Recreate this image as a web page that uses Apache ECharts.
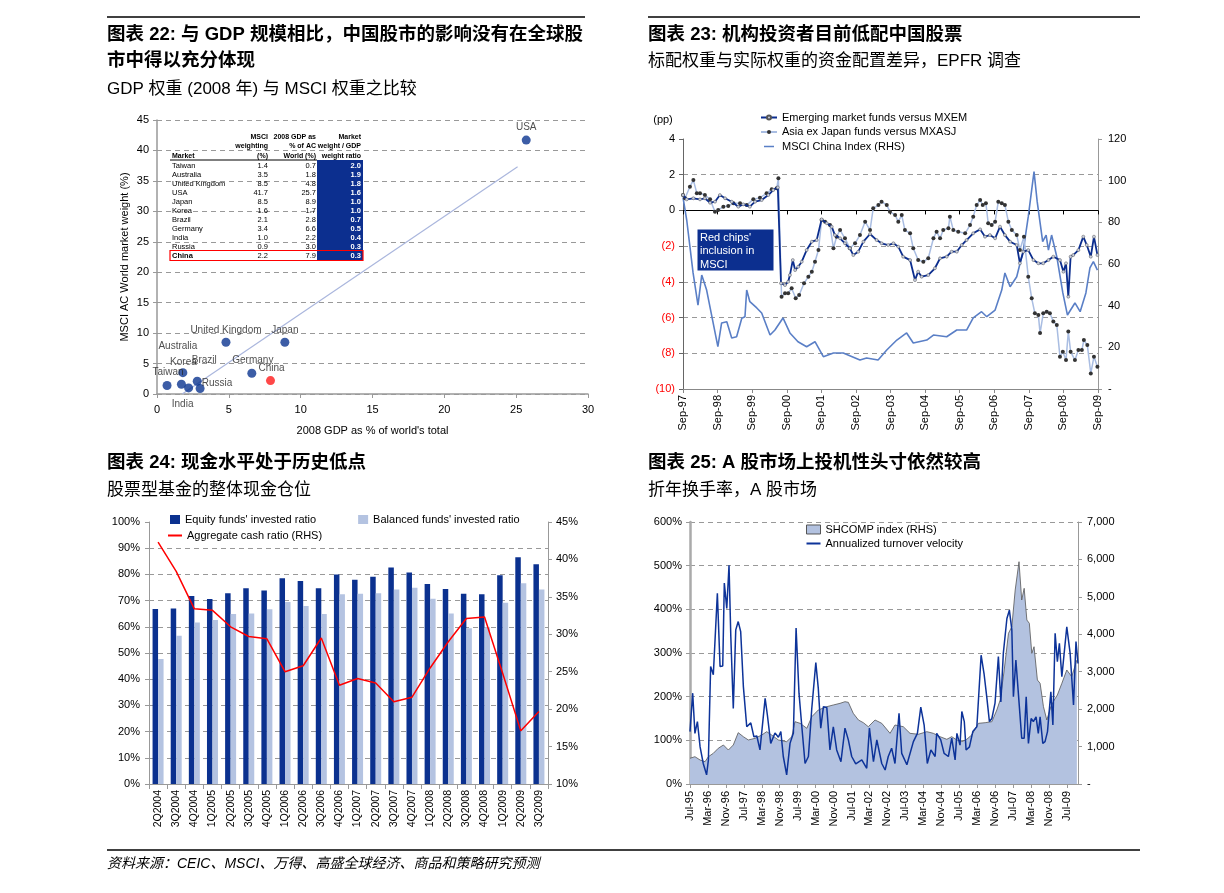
<!DOCTYPE html>
<html><head><meta charset="utf-8">
<script src="https://cdn.jsdelivr.net/npm/echarts@6.0.0/dist/echarts.min.js"></script>
<style>html,body{margin:0;padding:0;background:#fff}#c{width:1224px;height:893px}</style>
</head><body><div id="c"></div>
<script>
// ---------- Chart 22 data ----------
const gdpMarkets = ['Taiwan','Australia','United Kingdom','USA','Japan','Korea','Brazil','Germany','India','Russia','China'];
const msciWeight = [1.4,3.5,8.5,41.7,8.5,1.6,2.1,3.4,1.0,0.9,2.2];
const gdpShare = [0.7,1.8,4.8,25.7,8.9,1.7,2.8,6.6,2.2,3.0,7.9];
const weightRatio = [2.0,1.9,1.8,1.6,1.0,1.0,0.7,0.5,0.4,0.3,0.3];

// ---------- Chart 23 data (month index from Sep-97, value) ----------
const epfrTicks = ['Sep-97','Sep-98','Sep-99','Sep-00','Sep-01','Sep-02','Sep-03','Sep-04','Sep-05','Sep-06','Sep-07','Sep-08','Sep-09'];
const emFunds = [[0,0.86],[1.3,0.62],[3.6,0.68],[5.9,0.62],[7.6,0.68],[9.4,0.43],[11.1,0.49],[12.8,0.86],[14.6,0.68],[16.9,0.49],[19.2,0.21],[20.9,0.34],[23.2,0.21],[25,0.49],[27.3,0.58],[29.6,0.86],[31.3,1.14],[32.9,1.29],[34,-4.08],[35.4,-4.18],[36.5,-3.99],[37.1,-3.62],[38.1,-2.78],[38.9,-3.34],[40,-3.15],[41.2,-2.87],[42.9,-2.22],[44.7,-1.75],[46.4,-1.66],[48.1,-0.5],[49.9,-0.72],[51.6,-0.91],[52.7,-1.38],[54.5,-1.56],[56.2,-1.84],[57.9,-2.12],[59.1,-2.5],[60.8,-2.31],[62.6,-1.75],[64.9,-1.32],[67.2,-1.66],[68.9,-1.84],[71.2,-1.94],[73,-1.84],[74.7,-2.03],[76.4,-2.59],[78.8,-2.78],[80.5,-3.9],[81.6,-3.43],[82.8,-3.71],[85.1,-3.62],[87.4,-3.24],[89.2,-2.68],[91.5,-2.59],[93.2,-2.31],[95,-2.31],[96.7,-1.94],[98.4,-1.66],[100.7,-1.28],[103.1,-1.06],[104.8,-1.47],[106.5,-1.38],[108.3,-1.56],[110,-0.91],[111.7,-1.38],[113.5,-1.75],[115.8,-1.94],[116.9,-2.96],[118.1,-2.31],[119.8,-2.22],[121.6,-2.78],[123.3,-2.96],[125,-2.96],[126.8,-2.78],[128.5,-2.59],[130.8,-2.78],[132,-3.43],[132.9,-2.96],[133.7,-4.83],[134.5,-2.59],[135.4,-2.5],[137.2,-2.22],[138.9,-1.47],[140.1,-1.94],[141.5,-2.59],[142.6,-1.47],[143.8,-2.5]];
const asiaFunds = [[0,0.86],[0.7,0.68],[2.4,1.33],[3.6,1.7],[4.8,0.96],[5.9,0.96],[7.6,0.86],[9.4,0.62],[11.1,-0.07],[12.2,0.02],[14,0.21],[15.7,0.25],[17.5,0.4],[19.8,0.4],[22.1,0.3],[24.4,0.62],[26.7,0.71],[29,0.96],[30.8,1.18],[32.5,1.24],[33.1,1.8],[34.2,-4.83],[35.4,-4.64],[36.5,-4.64],[37.7,-4.36],[39.1,-4.92],[40.3,-4.74],[42,-4.08],[43.5,-3.71],[44.7,-3.43],[45.8,-2.87],[47,-2.22],[48.1,-0.54],[49.3,-0.63],[51,-0.82],[52.2,-2.12],[53.3,-1.47],[54.5,-1.1],[56.2,-1.56],[57.9,-2.12],[59.7,-1.84],[61.4,-1.38],[63.2,-0.63],[64.9,-1.1],[66,0.12],[67.8,0.3],[68.9,0.49],[70.7,0.3],[71.8,-0.07],[73.6,-0.26],[74.7,-0.63],[75.9,-0.26],[77,-1.1],[78.8,-1.28],[79.9,-2.12],[81.6,-2.78],[83.4,-2.87],[85.1,-2.68],[86.9,-1.56],[88,-1.19],[89.2,-1.56],[90.3,-1.1],[92.1,-1.0],[92.6,-0.35],[93.8,-1.1],[95.5,-1.19],[97.9,-1.28],[99.6,-0.82],[100.7,-0.35],[101.9,0.3],[103.1,0.58],[104,0.3],[105.1,0.4],[105.9,-0.72],[107.1,-0.82],[108.3,-0.63],[109.4,0.49],[110.6,0.4],[111.7,0.3],[112.9,-0.63],[114.1,-1.1],[115.8,-1.38],[116.9,-2.22],[118.3,-1.47],[119.8,-3.71],[121,-4.92],[122.1,-5.76],[123.3,-5.85],[123.9,-6.87],[125,-5.76],[126.2,-5.67],[127.3,-5.76],[128.5,-6.22],[129.7,-6.41],[130.8,-8.19],[131.8,-7.91],[132.9,-8.38],[133.7,-6.78],[134.5,-7.91],[136,-8.38],[137.2,-7.82],[138.4,-7.82],[139.1,-7.26],[140.3,-7.54],[141.5,-9.13],[142.6,-8.19],[143.8,-8.75]];
const msciChina = [[0,92],[1.3,81],[3.5,55.7],[5.2,40.3],[6.5,54.7],[8.2,47.5],[12.1,20.3],[13.4,31.7],[15.2,32.3],[16.9,24.5],[18.6,25.1],[20.4,34],[21.5,34.7],[22.1,47.5],[23.2,41.9],[25.6,38.9],[27.3,36.5],[30.2,25.9],[31.9,28.3],[34.7,34.1],[37.1,26.9],[39.9,22.7],[42.9,20.3],[45.8,22.7],[48.7,15.5],[52.2,17.3],[55.6,17.3],[61.4,13.9],[63.7,14.9],[67.7,13.9],[70.7,18.7],[74.2,23.5],[77.6,26.9],[79.9,22.1],[84.6,23.5],[86.9,25.9],[91.5,25.1],[95,28.3],[98.4,28.3],[100.7,34.1],[103.6,37.1],[105.4,34.7],[108.3,37.9],[110.6,47.5],[111.7,55.7],[113.5,49.1],[115.8,53.9],[118.1,66.7],[119.8,82.7],[121.8,104.3],[122.9,89.9],[124.8,70.7],[126,73.9],[126.8,66.7],[127.9,73.9],[129.7,63.5],[131.8,46.1],[133.4,35.5],[136,41.3],[137.8,37.1],[139.8,46.1],[141.2,58.1],[142.4,61.1],[143.8,57.1]];

// ---------- Chart 24 data ----------
const quarters = ['2Q2004','3Q2004','4Q2004','1Q2005','2Q2005','3Q2005','4Q2005','1Q2006','2Q2006','3Q2006','4Q2006','1Q2007','2Q2007','3Q2007','4Q2007','1Q2008','2Q2008','3Q2008','4Q2008','1Q2009','2Q2009','3Q2009'];
const equityRatio = [66.8,67.0,71.8,70.6,72.8,74.7,73.9,78.5,77.5,74.7,80.0,78.0,79.1,82.6,80.7,76.3,74.4,72.6,72.4,79.7,86.5,83.9];
const balancedRatio = [47.7,56.6,61.6,62.6,64.9,65.1,66.7,69.5,67.9,64.9,72.4,72.6,72.8,74.2,74.9,70.7,65.1,59.4,59.8,69.2,76.6,74.2];
const cashRatio = [42.3,38.4,33.4,33.2,31.0,29.7,29.4,25.0,25.8,29.5,23.2,24.1,23.5,21.0,21.6,25.5,29.0,32.1,32.3,24.8,17.1,19.7];

// ---------- Chart 25 data (month index from Jul-95, value) ----------
const turnoverTicks = ['Jul-95','Mar-96','Nov-96','Jul-97','Mar-98','Nov-98','Jul-99','Mar-00','Nov-00','Jul-01','Mar-02','Nov-02','Jul-03','Mar-04','Nov-04','Jul-05','Mar-06','Nov-06','Jul-07','Mar-08','Nov-08','Jul-09'];
const shcomp = [[0,687],[2.2,730],[4.5,641],[6.7,596],[8.2,730],[10.4,820],[12.6,954],[14.9,1042],[17.1,908],[19.3,1042],[21.5,1371],[23.8,1264],[26,1176],[29,1220],[32,1309],[34.2,1398],[36.4,1309],[39.4,1176],[43.1,1131],[45.4,1264],[46.8,1665],[49.1,1621],[52.1,1488],[54.3,1798],[57.2,1977],[61,2066],[63.9,2111],[66.9,2155],[69.1,2199],[70.6,2182],[72.8,1888],[75.1,1710],[77.3,1638],[79.5,1531],[82.5,1710],[85.5,1621],[89.2,1354],[91.4,1576],[95.1,1531],[98.1,1354],[101.8,1328],[105.6,1398],[108.5,1354],[111.5,1264],[114.5,1194],[116.7,1264],[119,1176],[121.2,1131],[123.4,1194],[125.6,1309],[128.6,1621],[131.6,1638],[134.6,1665],[136.8,1977],[138.3,2244],[140.1,3046],[142,4026],[143.5,4203],[145,5183],[146.7,5939],[147.9,4916],[149,5228],[150.2,4381],[151.3,4293],[152.4,3491],[153.4,3668],[154.9,2779],[156.1,2690],[157.6,2066],[159.1,1710],[160.9,2066],[162.4,2244],[163.8,2378],[165.8,2690],[168,3046],[170.2,2867],[172.5,3313]];
const turnover = [[0,120],[1.2,208],[2.2,116],[3.3,143],[4.5,85],[5.9,47],[7.4,21],[8.2,55],[9.2,269],[10.4,250],[12.2,437],[13.4,269],[14.6,270],[15.3,460],[16.4,402],[17.4,501],[18.2,337],[19.3,173],[20.4,353],[21.5,372],[22.6,349],[23.8,223],[25.3,131],[27.1,140],[28.5,108],[29.8,110],[31.2,78],[33.5,196],[34.5,158],[36,93],[37.9,117],[39.4,107],[40.5,120],[41.6,63],[43.1,21],[44.6,93],[46.1,117],[47.3,357],[48.6,208],[49.8,135],[51.3,47],[52.8,63],[54.3,173],[56.1,278],[57.2,219],[58.3,128],[59.5,177],[61,175],[62.4,78],[63.9,131],[65.4,78],[67.3,51],[69.1,128],[70.6,101],[72.1,63],[73.9,46],[76.6,55],[78.8,36],[80,128],[81.8,51],[83.3,101],[85.5,47],[87,32],[88.4,63],[89.9,82],[91.4,47],[93.2,162],[94.4,70],[96.7,44],[99.6,97],[101.4,116],[102.9,176],[104.4,135],[105.8,47],[107.4,78],[109.3,63],[110,116],[111.8,101],[113.3,70],[115.2,63],[116.7,105],[118.2,55],[119,116],[120.4,89],[121.2,166],[122.3,143],[123.1,78],[124.6,85],[126.1,120],[127.9,131],[129.8,295],[131.1,253],[132.3,200],[133.5,143],[134.6,150],[136,185],[137.5,292],[138.6,188],[139.7,299],[141.3,379],[142.4,398],[143.5,353],[144.2,200],[145.3,284],[146.4,208],[147.9,105],[149,105],[149.9,200],[150.9,93],[152.1,150],[153.1,143],[154.3,154],[155.3,116],[156.1,154],[157.3,93],[158.3,97],[159.4,120],[160.9,211],[161.8,135],[162.8,345],[163.8,280],[164.7,322],[165.8,246],[168,360],[169.5,299],[171,181],[172.1,326],[173,276]];

// ---------- layout / style ----------
const FONT = "'Liberation Sans', Arial, 'Noto Sans CJK SC', sans-serif";
const NAVY = '#0b318f';
const LINE_ICON = 'path://M0,3.6 L20,3.6 L20,6.4 L0,6.4 Z M0,0 L0.01,0 L0.01,0.01 Z M0,10 L0.01,10 L0.01,9.99 Z';
const labelOffsets = {'Taiwan':[1,-13],'Australia':[-5,-26],'United Kingdom':[0,-12],'USA':[0,-13],'Japan':[0,-12],'Korea':[2,-22],'Brazil':[7,-21],'Germany':[1,-13],'India':[-6,16],'Russia':[17,-5],'China':[1,-12]};

// regression trend line from the scatter data
const n = gdpShare.length;
const mx = gdpShare.reduce((a,b)=>a+b,0)/n, my = msciWeight.reduce((a,b)=>a+b,0)/n;
let sxy=0, sxx=0;
for (let i=0;i<n;i++){ sxy += (gdpShare[i]-mx)*(msciWeight[i]-my); sxx += (gdpShare[i]-mx)**2; }
const slope = sxy/sxx, icpt = my - slope*mx;
const trendEndX = 25.1;
const trend = [[-icpt/slope, 0], [trendEndX, icpt + slope*trendEndX]];

// table graphic
const T = {x0:170, msciR:268, gdpR:316, ratioL:317, ratioR:363, ratioTextR:361, headY:[137,146.5,156], lineY:160, row0:165.5, rowH:9};
const tableEls = [];
tableEls.push({type:'rect', z:50, shape:{x:T.ratioL, y:T.lineY, width:T.ratioR-T.ratioL, height:T.row0 + gdpMarkets.length*T.rowH - T.rowH/2 - T.lineY}, style:{fill:'#0c2f8f'}});
const heads = [[T.msciR,['MSCI','weighting','(%)']],[T.gdpR,['2008 GDP as','% of AC','World (%)']],[T.ratioTextR,['Market','weight / GDP','weight ratio']]];
heads.forEach(([x, lines]) => lines.forEach((t, k) => tableEls.push({type:'text', z:51, x:x, y:T.headY[k], style:{text:t, fill:'#000', font:'bold 7px '+FONT, align:'right', verticalAlign:'middle'}})));
tableEls.push({type:'text', z:51, x:T.x0+2, y:T.headY[2], style:{text:'Market', fill:'#000', font:'bold 7px '+FONT, align:'left', verticalAlign:'middle'}});
tableEls.push({type:'line', z:51, shape:{x1:T.x0, y1:T.lineY, x2:T.ratioL, y2:T.lineY}, style:{stroke:'#000', lineWidth:1}});
gdpMarkets.forEach((m, i) => {
  const y = T.row0 + i*T.rowH;
  const b = m === 'China' ? 'bold ' : '';
  tableEls.push({type:'text', z:51, x:T.x0+2, y:y, style:{text:m, fill:'#000', font:b+'7.5px '+FONT, align:'left', verticalAlign:'middle'}});
  tableEls.push({type:'text', z:51, x:T.msciR, y:y, style:{text:msciWeight[i].toFixed(1), fill:'#000', font:'7.5px '+FONT, align:'right', verticalAlign:'middle'}});
  tableEls.push({type:'text', z:51, x:T.gdpR, y:y, style:{text:gdpShare[i].toFixed(1), fill:'#000', font:'7.5px '+FONT, align:'right', verticalAlign:'middle'}});
  tableEls.push({type:'text', z:51, x:T.ratioTextR, y:y, style:{text:weightRatio[i].toFixed(1), fill:'#fff', font:'bold 7.5px '+FONT, align:'right', verticalAlign:'middle'}});
  if (m === 'China') tableEls.push({type:'rect', z:52, shape:{x:T.x0, y:y-5, width:T.ratioR-T.x0, height:10}, style:{fill:'none', stroke:'#ff0000', lineWidth:1.2}});
});

const chart = echarts.init(document.getElementById('c'), null, {renderer:'canvas'});
const axLabel = (extra) => Object.assign({fontSize:11, color:'#000', fontFamily:FONT}, extra||{});
const dashed = {show:true, lineStyle:{color:'#999', type:[5,4], width:1}};
const grayLine = (c,w) => ({show:true, onZero:false, lineStyle:{color:c||'#999', width:w||1}});
const titleStyle = {fontSize:18.5, fontWeight:'bold', color:'#000', lineHeight:26, fontFamily:FONT};
const subStyle = {fontSize:17, color:'#000', lineHeight:20, fontFamily:FONT};

const option = {
  animation:false,
  textStyle:{fontFamily:FONT},
  title:[
    {left:107, top:22, padding:0, itemGap:5,
     text:'图表 22: 与 GDP 规模相比，中国股市的影响没有在全球股\n市中得以充分体现',
     subtext:'GDP 权重 (2008 年) 与 MSCI 权重之比较', textStyle:titleStyle, subtextStyle:subStyle},
    {left:648, top:22, padding:0, itemGap:3,
     text:'图表 23: 机构投资者目前低配中国股票', subtext:'标配权重与实际权重的资金配置差异，EPFR 调查',
     textStyle:titleStyle, subtextStyle:subStyle},
    {left:107, top:450, padding:0, itemGap:4,
     text:'图表 24: 现金水平处于历史低点', subtext:'股票型基金的整体现金仓位',
     textStyle:titleStyle, subtextStyle:subStyle},
    {left:648, top:450, padding:0, itemGap:4,
     text:'图表 25: A 股市场上投机性头寸依然较高', subtext:'折年换手率，A 股市场',
     textStyle:titleStyle, subtextStyle:subStyle},
    {left:107, top:857, padding:0,
     text:'资料来源：CEIC、MSCI、万得、高盛全球经济、商品和策略研究预测',
     textStyle:{fontSize:14, fontWeight:'normal', fontStyle:'italic', color:'#000', fontFamily:FONT}}
  ],
  grid:[
    {left:157, top:120, width:431, height:274, outerBoundsMode:'none'},
    {left:683, top:139, width:415, height:250, outerBoundsMode:'none'},
    {left:149, top:522, width:399, height:262, outerBoundsMode:'none'},
    {left:690, top:522, width:388, height:262, outerBoundsMode:'none'}
  ],
  legend:[
    {left:760, top:112, orient:'vertical', padding:0, itemWidth:16, itemHeight:5, itemGap:3.5,
     textStyle:{fontSize:11, color:'#000', fontFamily:FONT},
     data:['Emerging market funds versus MXEM','Asia ex Japan funds versus MXASJ',
           {name:'MSCI China Index (RHS)', icon:LINE_ICON, itemStyle:{color:'#5a7fc6', borderWidth:0}}]},
    {left:170, top:514, orient:'horizontal', padding:0, itemWidth:10, itemHeight:9, itemGap:42,
     textStyle:{fontSize:11, color:'#000', fontFamily:FONT},
     data:[{name:'Equity funds\' invested ratio', icon:'rect'},{name:'Balanced funds\' invested ratio', icon:'rect'}]},
    {left:168, top:530, orient:'horizontal', padding:0, itemWidth:14, itemHeight:9,
     textStyle:{fontSize:11, color:'#000', fontFamily:FONT},
     data:[{name:'Aggregate cash ratio (RHS)', icon:LINE_ICON, itemStyle:{color:'#ff0000', borderWidth:0}}]},
    {left:806, top:524, orient:'vertical', padding:0, itemWidth:14, itemHeight:9, itemGap:3,
     textStyle:{fontSize:11, color:'#000', fontFamily:FONT},
     data:[{name:'SHCOMP index (RHS)', icon:'rect', itemStyle:{color:'#b3c2e0', borderColor:'#555', borderWidth:1}},
           {name:'Annualized turnover velocity', icon:LINE_ICON, itemStyle:{color:'#0d3399', borderWidth:0}}]}
  ],
  xAxis:[
    {gridIndex:0, type:'value', min:0, max:30, interval:5, axisLine:grayLine('#999',1.5),
     axisTick:{show:true, length:4, lineStyle:{color:'#999'}}, axisLabel:axLabel({margin:10}), splitLine:{show:false},
     name:'2008 GDP as % of world\'s total', nameLocation:'middle', nameGap:31, nameTextStyle:{fontSize:11, color:'#000', fontFamily:FONT}},
    {gridIndex:1, type:'value', min:0, max:144, interval:12, position:'bottom', axisLine:grayLine('#888',1),
     axisTick:{show:true, length:4, lineStyle:{color:'#888'}}, splitLine:{show:false},
     axisLabel:axLabel({rotate:90, margin:6, formatter:v => (v%12===0 && epfrTicks[v/12]) ? epfrTicks[v/12] : ''})},
    {gridIndex:1, type:'value', min:0, max:144, interval:12, position:'top',
     axisLine:{show:true, onZero:true, onZeroAxisIndex:1, lineStyle:{color:'#000', width:1}},
     axisTick:{show:true, inside:true, length:4, lineStyle:{color:'#000'}}, axisLabel:{show:false}, splitLine:{show:false}},
    {gridIndex:2, type:'category', data:quarters, axisLine:grayLine('#999',1),
     axisTick:{show:true, interval:0, length:5, lineStyle:{color:'#999'}},
     axisLabel:axLabel({rotate:90, interval:0, margin:6, fontSize:10.5}), splitLine:{show:false}},
    {gridIndex:3, type:'value', min:0, max:173, interval:8, axisLine:grayLine('#999',1),
     axisTick:{show:true, length:4, lineStyle:{color:'#999'}}, splitLine:{show:false},
     axisLabel:axLabel({rotate:90, margin:7, showMaxLabel:false, formatter:v => (v%8===0 && turnoverTicks[v/8]) ? turnoverTicks[v/8] : ''})}
  ],
  yAxis:[
    {gridIndex:0, type:'value', min:0, max:45, interval:5, axisLine:grayLine('#999',1.5),
     axisTick:{show:true, length:4, lineStyle:{color:'#999'}}, axisLabel:axLabel({margin:8}), splitLine:dashed,
     name:'MSCI AC World market weight (%)', nameLocation:'middle', nameGap:27, nameTextStyle:{fontSize:11, color:'#000', fontFamily:FONT}},
    {gridIndex:1, type:'value', min:-10, max:4, interval:2, position:'left', axisLine:grayLine('#666',1),
     axisTick:{show:true, length:4, lineStyle:{color:'#666'}},
     axisLabel:axLabel({margin:8, formatter:v => v<0 ? '('+(-v)+')' : String(v), color:(v) => Number(v)<0 ? '#ff0000' : '#000'}),
     splitLine:Object.assign({showMaxLine:false, showMinLine:false}, dashed)},
    {gridIndex:1, type:'value', min:0, max:120, interval:20, position:'right', axisLine:grayLine('#999',1),
     axisTick:{show:true, length:4, lineStyle:{color:'#999'}}, splitLine:{show:false},
     axisLabel:axLabel({margin:10, formatter:v => v===0 ? '-' : String(v)})},
    {gridIndex:2, type:'value', min:0, max:100, interval:10, position:'left', axisLine:grayLine('#999',1),
     axisTick:{show:true, length:4, lineStyle:{color:'#999'}}, splitLine:Object.assign({showMaxLine:false}, dashed),
     axisLabel:axLabel({margin:9, formatter:'{value}%'})},
    {gridIndex:2, type:'value', min:10, max:45, interval:5, position:'right', axisLine:grayLine('#999',1),
     axisTick:{show:true, length:4, lineStyle:{color:'#999'}}, splitLine:{show:false},
     axisLabel:axLabel({margin:8, formatter:'{value}%'})},
    {gridIndex:3, type:'value', min:0, max:600, interval:100, position:'left', axisLine:grayLine('#aaa',2.5),
     axisTick:{show:true, length:4, lineStyle:{color:'#999'}}, splitLine:dashed,
     axisLabel:axLabel({margin:8, formatter:'{value}%'})},
    {gridIndex:3, type:'value', min:0, max:7000, interval:1000, position:'right', axisLine:grayLine('#999',1),
     axisTick:{show:true, length:4, lineStyle:{color:'#999'}}, splitLine:{show:false},
     axisLabel:axLabel({margin:9, formatter:v => v===0 ? '-' : v.toLocaleString('en-US')})}
  ],
  series:[
    {type:'line', name:'trend', xAxisIndex:0, yAxisIndex:0, data:trend, symbol:'none', silent:true,
     lineStyle:{color:'#aab6dd', width:1.2}, z:2},
    {type:'scatter', name:'markets', xAxisIndex:0, yAxisIndex:0, symbolSize:9, z:3,
     itemStyle:{color:'#0b3590'},
     label:{show:true, position:'inside', formatter:'{b}', fontSize:10, color:'#222', fontFamily:FONT},
     data:gdpMarkets.map((m,i) => {
       const d = {name:m, value:[gdpShare[i], msciWeight[i]], label:{offset:labelOffsets[m]}};
       if (m === 'China') d.itemStyle = {color:'#ff1a1a'};
       return d;
     })},

    {type:'line', name:'MSCI China Index (RHS)', xAxisIndex:1, yAxisIndex:2, data:msciChina, symbol:'none',
     lineStyle:{color:'#5a7fc6', width:1.6}, itemStyle:{color:'#5a7fc6'}, z:2},
    {type:'line', name:'Asia ex Japan funds versus MXASJ', xAxisIndex:1, yAxisIndex:1, data:asiaFunds,
     symbol:'circle', symbolSize:4, showAllSymbol:true,
     lineStyle:{color:'#a9bde2', width:1.5}, itemStyle:{color:'#333'}, z:3},
    {type:'line', name:'Emerging market funds versus MXEM', xAxisIndex:1, yAxisIndex:1, data:emFunds,
     symbol:'circle', symbolSize:3, showAllSymbol:true,
     lineStyle:{color:'#0b2d8e', width:1.8}, itemStyle:{color:'#c8cfe0', borderColor:'#555', borderWidth:0.5}, z:4},

    {type:'bar', name:'Equity funds\' invested ratio', xAxisIndex:3, yAxisIndex:3, data:equityRatio,
     barWidth:5.5, barGap:'0%', itemStyle:{color:NAVY}},
    {type:'bar', name:'Balanced funds\' invested ratio', xAxisIndex:3, yAxisIndex:3, data:balancedRatio,
     barWidth:5.5, barGap:'0%', itemStyle:{color:'#b4c3e1'}},
    {type:'line', name:'Aggregate cash ratio (RHS)', xAxisIndex:3, yAxisIndex:4, data:cashRatio, symbol:'none',
     lineStyle:{color:'#ff0000', width:1.5}, itemStyle:{color:'#ff0000'}, z:5},

    {type:'line', name:'SHCOMP index (RHS)', xAxisIndex:4, yAxisIndex:6, data:shcomp, symbol:'none',
     lineStyle:{color:'#555', width:0.8}, areaStyle:{color:'#b3c2e0', opacity:1}, itemStyle:{color:'#b3c2e0'}, z:2},
    {type:'line', name:'Annualized turnover velocity', xAxisIndex:4, yAxisIndex:5, data:turnover, symbol:'none',
     lineStyle:{color:'#0d3399', width:1.5}, itemStyle:{color:'#0d3399'}, z:3}
  ],
  graphic:[
    {type:'line', shape:{x1:107, y1:17, x2:585, y2:17}, style:{stroke:'#000', lineWidth:1.5}},
    {type:'line', shape:{x1:648, y1:17, x2:1140, y2:17}, style:{stroke:'#000', lineWidth:1.5}},
    {type:'line', shape:{x1:107, y1:850, x2:1140, y2:850}, style:{stroke:'#000', lineWidth:1.5}},
    {type:'text', x:663, y:120, style:{text:'(pp)', fill:'#000', font:'11px '+FONT, align:'center', verticalAlign:'middle'}},
    {type:'rect', z:60, shape:{x:697, y:229, width:77, height:42}, style:{fill:'#0c2f8f', stroke:'#fff', lineWidth:1}},
    {type:'text', z:61, x:700, y:231, style:{text:'Red chips\'\ninclusion in\nMSCI', fill:'#fff', font:'11px '+FONT, lineHeight:13.5, align:'left', verticalAlign:'top'}}
  ].concat(tableEls)
};
chart.setOption(option);
</script></body></html>
